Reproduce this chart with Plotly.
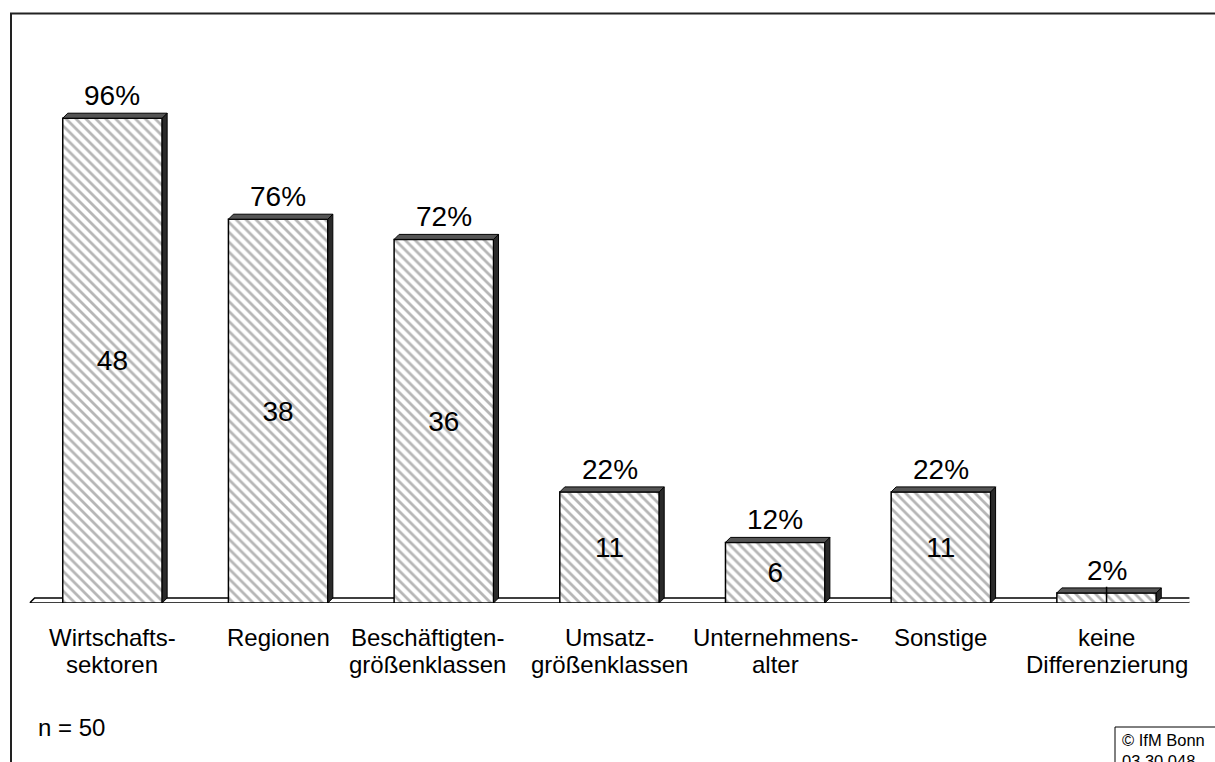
import plotly.graph_objects as go

# ---------------- data ----------------
categories = [
    "Wirtschafts-\nsektoren",
    "Regionen",
    "Beschäftigten-\ngrößenklassen",
    "Umsatz-\ngrößenklassen",
    "Unternehmens-\nalter",
    "Sonstige",
    "keine\nDifferenzierung",
]
counts = [48, 38, 36, 11, 6, 11, 1]
percents = [96, 76, 72, 22, 12, 22, 2]
inner_labels = ["48", "38", "36", "11", "6", "11", ""]
sample_note = "n = 50"
copyright_lines = ["© IfM Bonn", "03 30 048"]

# ---------------- geometry / style ----------------
W, H = 1215, 762
x_left_px, x_right_px = 29.6, 1189.4
y0_px, ytop_px = 603, 13
px_per_unit = 10.1
ymax = (y0_px - ytop_px) / px_per_unit
cat_px = (x_right_px - x_left_px) / len(categories)
depth_px = 5
dx = depth_px / cat_px
dy = depth_px / px_per_unit
bw = 0.6
FONT = "Arial, 'Liberation Sans', sans-serif"
label_xshift = [0, 0, -16, 0, 0, 0, 0]

xs = list(range(len(categories)))

fig = go.Figure()
fig.add_trace(go.Bar(
    x=xs, y=counts, width=bw,
    text=inner_labels, textposition="inside", insidetextanchor="middle",
    constraintext="none",
    textfont=dict(size=28, color="black", family=FONT),
    marker=dict(
        color="white",
        line=dict(color="black", width=1.5),
        pattern=dict(shape="\\", fgcolor="#6e6e6e", bgcolor="white",
                     size=7, solidity=0.4),
    ),
    hoverinfo="skip",
))

shapes = []
n = len(categories)
# floor (depth plane)
shapes.append(dict(
    type="path", xref="x", yref="y", layer="below",
    path=f"M {-0.5},0 L {-0.5+dx},{dy} L {n-0.5+dx},{dy} L {n-0.5},0 Z",
    fillcolor="white", line=dict(color="black", width=1.5),
))
# 3D top and side faces of bars
for x, v in zip(xs, counts):
    xl, xr = x - bw / 2, x + bw / 2
    shapes.append(dict(
        type="path", xref="x", yref="y",
        path=f"M {xr},0 L {xr+dx},{dy} L {xr+dx},{v+dy} L {xr},{v} Z",
        fillcolor="#2a2a2a", line=dict(color="black", width=1),
    ))
    shapes.append(dict(
        type="path", xref="x", yref="y",
        path=f"M {xl},{v} L {xl+dx},{v+dy} L {xr+dx},{v+dy} L {xr},{v} Z",
        fillcolor="#555555", line=dict(color="black", width=1),
    ))
# small tick through the last bar
shapes.append(dict(
    type="line", xref="x", yref="y",
    x0=xs[-1], x1=xs[-1], y0=-0.5, y1=counts[-1] + 0.6,
    line=dict(color="black", width=1.5),
))
# outer frame
shapes.append(dict(
    type="rect", xref="paper", yref="paper",
    x0=11 / W, x1=1.05, y0=-0.05, y1=1 - 13.5 / H,
    line=dict(color="#222222", width=2), fillcolor="rgba(0,0,0,0)",
))
# copyright box
shapes.append(dict(
    type="rect", xref="paper", yref="paper",
    x0=1115 / W, x1=1.05, y0=-0.05, y1=1 - 727 / H,
    line=dict(color="black", width=1), fillcolor="white",
))

annotations = []
for x, v, p in zip(xs, counts, percents):
    annotations.append(dict(
        x=x, y=v + dy, xref="x", yref="y", text=f"{p}%",
        showarrow=False, xanchor="center", yanchor="bottom",
        font=dict(size=28, color="black", family=FONT),
    ))
line_centers_px = [637.6, 664.6]
for x, cat, xs_ in zip(xs, categories, label_xshift):
    for k, line in enumerate(cat.split("\n")):
        annotations.append(dict(
            x=x, y=1 - line_centers_px[k] / H, xref="x", yref="paper",
            text=line, showarrow=False, xanchor="center", yanchor="middle",
            xshift=xs_, font=dict(size=24, color="black", family=FONT),
        ))
annotations.append(dict(
    x=36 / W, y=1 - 727 / H, xref="paper", yref="paper",
    text=sample_note, showarrow=False, xanchor="left", yanchor="middle",
    font=dict(size=24, color="black", family=FONT),
))
annotations.append(dict(
    x=1120 / W, y=1 - 729 / H, xref="paper", yref="paper",
    text="<br>".join(copyright_lines), showarrow=False,
    xanchor="left", yanchor="top", align="left",
    font=dict(size=16.5, color="black", family=FONT),
))

fig.update_layout(
    width=W, height=H,
    margin=dict(l=0, r=0, t=0, b=0),
    paper_bgcolor="white", plot_bgcolor="white",
    showlegend=False, bargap=0.4,
    xaxis=dict(domain=[x_left_px / W, x_right_px / W], range=[-0.5, n - 0.5],
               visible=False, fixedrange=True),
    yaxis=dict(domain=[(H - y0_px) / H, (H - ytop_px) / H], range=[0, ymax],
               visible=False, fixedrange=True),
    shapes=shapes, annotations=annotations,
)

fig.write_html(
    "out.html",
    config={"displayModeBar": False},
    post_script="document.body.style.margin='0';document.body.style.padding='0';",
)
